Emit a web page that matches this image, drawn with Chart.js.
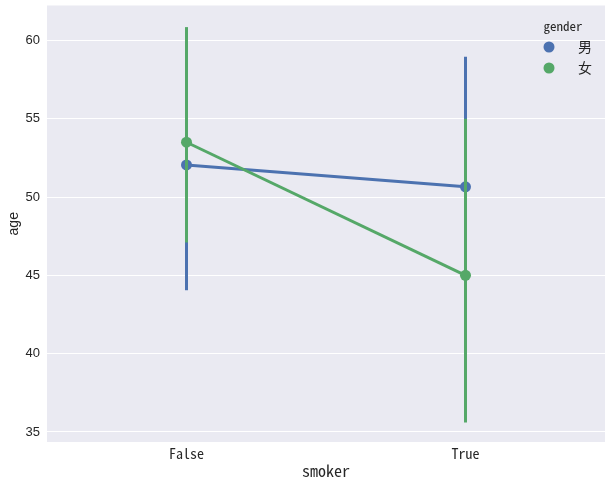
<!DOCTYPE html>
<html lang="en">
<head>
  <meta charset="UTF-8">
  <title>Point plot</title>
  <style>
    body { margin: 0; background: #fff; }
    #wrap { width: 612px; height: 486px; }
  </style>
</head>
<body>
<div id="wrap"><canvas id="chart" width="612" height="486"></canvas></div>
<script src="https://cdn.jsdelivr.net/npm/chart.js"></script>
<script>
  // data
  const smoker = ['False', 'True'];
  const genders = ['男', '女'];
  const colors = ['#4C72B0', '#55A868'];
  const meanAge = [[52.05, 50.65], [53.5, 45.0]];
  const ciLow = [[44.05, 42.3], [47.1, 35.6]];
  const ciHigh = [[60.0, 58.95], [60.85, 55.0]];
  const yTicks = [35, 40, 45, 50, 55, 60];

  const monoFont = '"Noto Sans Mono CJK SC", "DejaVu Sans Mono", monospace';

  // draw the CI line of each series just before its own points/line
  const errorBars = {
    id: 'errorBars',
    beforeDatasetDraw(chart, args) {
      const i = args.index;
      const x = chart.scales.x, y = chart.scales.y;
      const ctx = chart.ctx;
      ctx.save();
      ctx.strokeStyle = colors[i];
      ctx.lineWidth = 3;
      ctx.lineCap = 'butt';
      smoker.forEach((s, j) => {
        const px = x.getPixelForValue(j);
        ctx.beginPath();
        ctx.moveTo(px, y.getPixelForValue(ciLow[i][j]));
        ctx.lineTo(px, y.getPixelForValue(ciHigh[i][j]));
        ctx.stroke();
      });
      ctx.restore();
    }
  };

  const plotBg = {
    id: 'plotBg',
    beforeDraw(chart) {
      const a = chart.chartArea, ctx = chart.ctx;
      ctx.save();
      ctx.fillStyle = '#EAEAF2';
      ctx.fillRect(a.left, a.top, a.right - a.left, a.bottom - a.top);
      ctx.restore();
    }
  };

  const legendBox = {
    id: 'legendBox',
    afterDraw(chart) {
      const ctx = chart.ctx;
      ctx.save();
      ctx.fillStyle = '#262626';
      ctx.textBaseline = 'middle';
      ctx.font = '13px ' + monoFont;
      ctx.textAlign = 'center';
      ctx.fillText('gender', 563, 26);
      genders.forEach((g, i) => {
        const cy = 47 + i * 21;
        ctx.fillStyle = colors[i];
        ctx.beginPath();
        ctx.arc(549, cy, 5.5, 0, Math.PI * 2);
        ctx.fill();
        ctx.fillStyle = '#262626';
        ctx.font = '14px "Noto Sans CJK SC"';
        ctx.textAlign = 'left';
        ctx.fillText(g, 578, cy);
      });
      ctx.restore();
    }
  };

  new Chart(document.getElementById('chart'), {
    type: 'line',
    data: {
      labels: smoker,
      datasets: genders.map((g, i) => ({
        label: g,
        data: meanAge[i],
        borderColor: colors[i],
        backgroundColor: colors[i],
        borderWidth: 3,
        pointRadius: 5.5,
        pointBorderWidth: 0,
        pointHoverRadius: 5.5,
        tension: 0,
        order: genders.length - i
      }))
    },
    options: {
      responsive: false,
      animation: false,
      layout: { padding: { top: 5, right: 7, left: 0, bottom: 0 } },
      plugins: { legend: { display: false }, tooltip: { enabled: false } },
      scales: {
        x: {
          offset: true,
          grid: { display: false },
          border: { display: false },
          ticks: { color: '#262626', font: { family: monoFont, size: 14 }, padding: -5 },
          title: { display: true, text: 'smoker', color: '#262626', font: { family: monoFont, size: 16 }, padding: { top: 0, bottom: 5 } },
          afterFit(s) { s.height = 44; s.paddingLeft = 0; s.paddingRight = 0; }
        },
        y: {
          min: 34.36,
          max: 62.23,
          afterBuildTicks(s) { s.ticks = yTicks.map(v => ({ value: v })); },
          grid: { color: '#ffffff', lineWidth: 1, drawTicks: false },
          border: { display: false },
          ticks: { color: '#262626', font: { family: '"Liberation Sans", Arial', size: 13 }, padding: 7 },
          title: { display: true, text: 'age', color: '#262626', font: { family: '"Liberation Sans", Arial', size: 14 }, padding: { top: 6, bottom: 0 } },
          afterFit(s) { s.width = 47; s.paddingTop = 0; s.paddingBottom = 0; }
        }
      }
    },
    plugins: [plotBg, errorBars, legendBox]
  });
</script>
</body>
</html>
